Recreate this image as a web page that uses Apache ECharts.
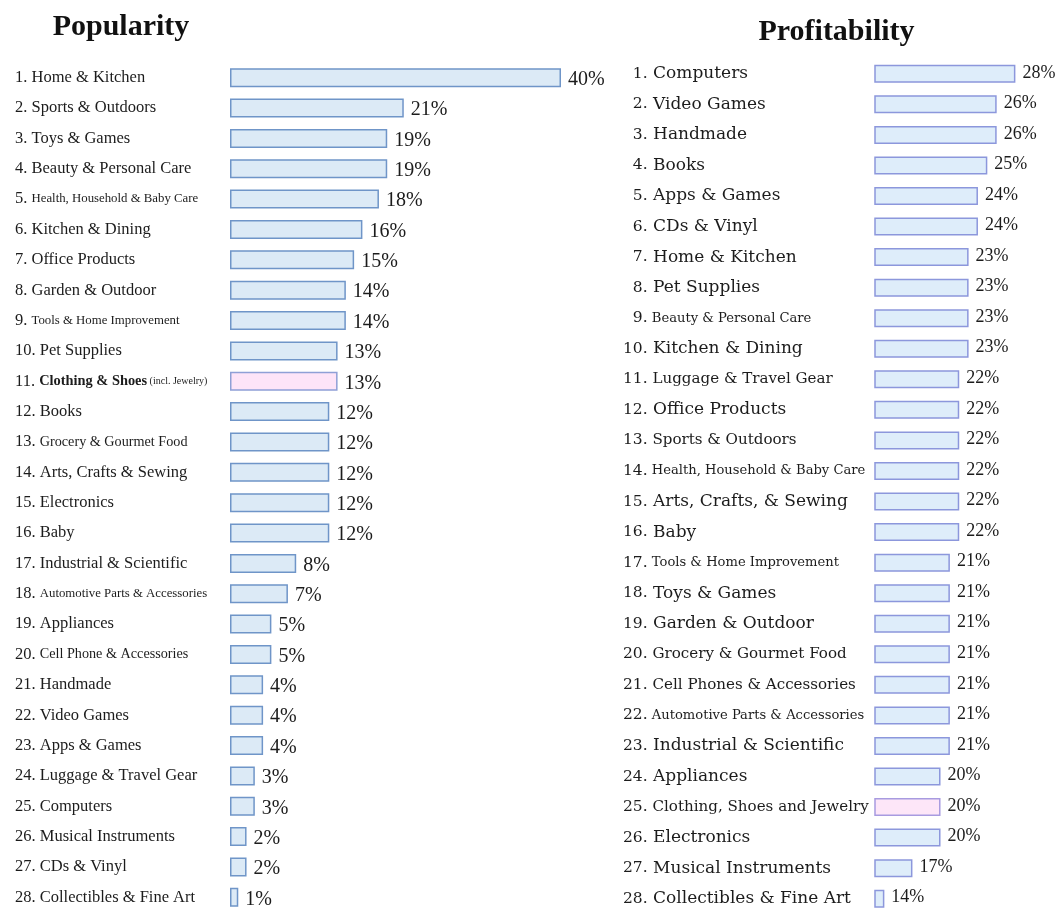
<!DOCTYPE html>
<html>
<head>
<meta charset="utf-8">
<script src="https://cdn.jsdelivr.net/npm/echarts@6/dist/echarts.min.js"></script>
<style>
  html, body { margin: 0; padding: 0; background: #ffffff; }
  #chart { width: 1059px; height: 914px; }
</style>
</head>
<body>
<div id="chart"></div>
<script>
// Share of sellers naming each category (popularity) and share reporting it as profitable
const popularityCategories = [
  'Home & Kitchen', 'Sports & Outdoors', 'Toys & Games', 'Beauty & Personal Care',
  'Health, Household & Baby Care', 'Kitchen & Dining', 'Office Products', 'Garden & Outdoor',
  'Tools & Home Improvement', 'Pet Supplies', 'Clothing & Shoes (incl. Jewelry)', 'Books',
  'Grocery & Gourmet Food', 'Arts, Crafts & Sewing', 'Electronics', 'Baby',
  'Industrial & Scientific', 'Automotive Parts & Accessories', 'Appliances', 'Cell Phone & Accessories',
  'Handmade', 'Video Games', 'Apps & Games', 'Luggage & Travel Gear',
  'Computers', 'Musical Instruments', 'CDs & Vinyl', 'Collectibles & Fine Art'
];
const popularityValues = [40, 21, 19, 19, 18, 16, 15, 14, 14, 13, 13, 12, 12, 12, 12, 12, 8, 7, 5, 5, 4, 4, 4, 3, 3, 2, 2, 1];

const profitabilityCategories = [
  'Computers', 'Video Games', 'Handmade', 'Books', 'Apps & Games', 'CDs & Vinyl',
  'Home & Kitchen', 'Pet Supplies', 'Beauty & Personal Care', 'Kitchen & Dining',
  'Luggage & Travel Gear', 'Office Products', 'Sports & Outdoors', 'Health, Household & Baby Care',
  'Arts, Crafts, & Sewing', 'Baby', 'Tools & Home Improvement', 'Toys & Games',
  'Garden & Outdoor', 'Grocery & Gourmet Food', 'Cell Phones & Accessories',
  'Automotive Parts & Accessories', 'Industrial & Scientific', 'Appliances',
  'Clothing, Shoes and Jewelry', 'Electronics', 'Musical Instruments', 'Collectibles & Fine Art'
];
const profitabilityValues = [28, 26, 26, 25, 24, 24, 23, 23, 23, 23, 22, 22, 22, 22, 22, 22, 21, 21, 21, 21, 21, 21, 21, 20, 20, 20, 17, 14];

const panelTitles = ['Popularity', 'Profitability'];

// ---- styling ----
const SERIF = '"Liberation Serif", "Times New Roman", serif';
const WIDE = '"DejaVu Serif", serif';
const TEXT = '#1c1c1c';

const leftLabelClass = {
  'Health, Household & Baby Care': 'xs',
  'Tools & Home Improvement': 'xs',
  'Automotive Parts & Accessories': 'xs',
  'Grocery & Gourmet Food': 'sm',
  'Cell Phone & Accessories': 'sm'
};
const rightLabelClass = {
  'Beauty & Personal Care': 'xs',
  'Health, Household & Baby Care': 'xs',
  'Tools & Home Improvement': 'xs',
  'Automotive Parts & Accessories': 'xs',
  'Luggage & Travel Gear': 'sm',
  'Sports & Outdoors': 'sm',
  'Grocery & Gourmet Food': 'sm',
  'Cell Phones & Accessories': 'sm',
  'Clothing, Shoes and Jewelry': 'sm'
};

const isHighlight = name => name.indexOf('Clothing') === 0;

function barData(names, values, fill, stroke, pinkFill, pinkStroke) {
  return values.map((v, i) => ({
    value: v,
    itemStyle: isHighlight(names[i])
      ? { color: pinkFill, borderColor: pinkStroke }
      : { color: fill, borderColor: stroke }
  }));
}

function leftFormatter(name, idx) {
  const rank = (idx + 1) + '. ';
  const p = name.indexOf(' (');
  if (p > 0) {
    return '{n|' + rank + '}{b|' + name.slice(0, p) + '}{t|' + name.slice(p) + '}';
  }
  const cls = leftLabelClass[name] || 'm';
  return '{n|' + rank + '}{' + cls + '|' + name + '}';
}

// single-digit ranks get a figure space so the category names line up
function rightFormatter(name, idx) {
  const cls = rightLabelClass[name] || 'm';
  const rank = (idx < 9 ? '\u2007' : '') + (idx + 1) + '.';
  return '{n|' + rank + '}{' + cls + '| ' + name + '}';
}

const chart = echarts.init(document.getElementById('chart'), null, { renderer: 'canvas' });

chart.setOption({
  backgroundColor: '#ffffff',
  animation: false,
  title: [
    {
      text: panelTitles[0], left: 116, top: 7, textAlign: 'center',
      textStyle: { fontFamily: SERIF, fontWeight: 'bold', fontSize: 30, color: '#111' }
    },
    {
      text: panelTitles[1], left: 831.5, top: 12, textAlign: 'center',
      textStyle: { fontFamily: SERIF, fontWeight: 'bold', fontSize: 30, color: '#111' }
    }
  ],
  grid: [
    { left: 230, top: 62.5, width: 331, height: 850, containLabel: false },
    { left: 875, top: 58.5, width: 140.4, height: 856, containLabel: false }
  ],
  xAxis: [
    { type: 'value', gridIndex: 0, min: 0, max: 40, show: false },
    { type: 'value', gridIndex: 1, min: 13, max: 28, show: false }
  ],
  yAxis: [
    {
      type: 'category', gridIndex: 0, inverse: true, data: popularityCategories,
      axisLine: { show: false }, axisTick: { show: false }, splitLine: { show: false },
      axisLabel: {
        align: 'left', margin: 215, interval: 0, color: TEXT,
        fontFamily: SERIF, fontSize: 16.5,
        formatter: leftFormatter,
        rich: {
          n:  { fontFamily: SERIF, fontSize: 16.5, color: TEXT },
          m:  { fontFamily: SERIF, fontSize: 16.5, color: TEXT },
          sm: { fontFamily: SERIF, fontSize: 14.2, color: TEXT },
          xs: { fontFamily: SERIF, fontSize: 12.8, color: TEXT },
          b:  { fontFamily: SERIF, fontSize: 14.4, fontWeight: 'bold', color: TEXT },
          t:  { fontFamily: SERIF, fontSize: 10, color: TEXT }
        }
      }
    },
    {
      type: 'category', gridIndex: 1, inverse: true, data: profitabilityCategories,
      axisLine: { show: false }, axisTick: { show: false }, splitLine: { show: false },
      axisLabel: {
        align: 'left', margin: 252, interval: 0, color: TEXT,
        fontFamily: WIDE, fontSize: 17,
        formatter: rightFormatter,
        rich: {
          n:  { fontFamily: WIDE, fontSize: 15.5, color: TEXT },
          m:  { fontFamily: WIDE, fontSize: 17, color: TEXT },
          sm: { fontFamily: WIDE, fontSize: 15.1, color: TEXT },
          xs: { fontFamily: WIDE, fontSize: 13.1, color: TEXT }
        }
      }
    }
  ],
  series: [
    {
      type: 'bar', xAxisIndex: 0, yAxisIndex: 0, barWidth: 19,
      data: barData(popularityCategories, popularityValues, '#dceaf6', '#6f95c8', '#fde4f8', '#8f9fd6'),
      itemStyle: { borderWidth: 1.5 },
      label: {
        show: true, position: 'right', distance: 7, formatter: '{c}%',
        fontFamily: SERIF, fontSize: 20, color: TEXT, offset: [0, 2]
      }
    },
    {
      type: 'bar', xAxisIndex: 1, yAxisIndex: 1, barWidth: 18,
      data: barData(profitabilityCategories, profitabilityValues, '#deedfa', '#8c97dc', '#fde6f8', '#a89be0'),
      itemStyle: { borderWidth: 1.5 },
      label: {
        show: true, position: 'right', distance: 7, formatter: '{c}%',
        fontFamily: SERIF, fontSize: 18, color: TEXT, offset: [0, -1]
      }
    }
  ]
});
</script>
</body>
</html>
